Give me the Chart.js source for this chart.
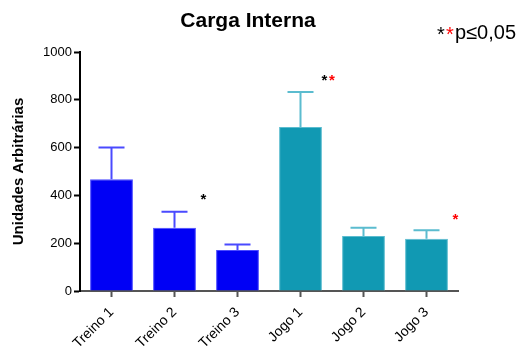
<!DOCTYPE html>
<html>
<head>
<meta charset="utf-8">
<script src="https://cdn.jsdelivr.net/npm/chart.js@4.4.0/dist/chart.umd.min.js"></script>
<style>
  body { margin: 0; background: #fff; }
  #wrap { width: 518px; height: 347px; position: relative; }
</style>
</head>
<body>
<div id="wrap"><canvas id="cargaChart"></canvas></div>
<script>
const categories = ['Treino 1', 'Treino 2', 'Treino 3', 'Jogo 1', 'Jogo 2', 'Jogo 3'];
const means = [468, 265, 172, 686, 230, 219];
const sdUpper = [132, 67, 23, 147, 35, 35];
const yTicks = [0, 200, 400, 600, 800, 1000];

const barColors = ['#0000f5', '#0000f5', '#0000f5', '#1199b3', '#1199b3', '#1199b3'];
const edgeColors = ['#4a4aff', '#4a4aff', '#4a4aff', '#5bbccf', '#5bbccf', '#5bbccf'];

// error bars (upper only) + significance marks
const extrasPlugin = {
    id: 'extras',
    afterDatasetsDraw(chart) {
        const ctx = chart.ctx;
        const x = chart.scales.x, y = chart.scales.y;
        ctx.save();
        means.forEach(function (m, i) {
            const px = x.getPixelForValue(i);
            const y0 = y.getPixelForValue(m);
            const y1 = y.getPixelForValue(m + sdUpper[i]);
            ctx.strokeStyle = edgeColors[i];
            ctx.lineWidth = 2;
            ctx.beginPath();
            ctx.moveTo(px, y0);
            ctx.lineTo(px, y1);
            ctx.moveTo(px - 13, y1);
            ctx.lineTo(px + 13, y1);
            ctx.stroke();
        });

        ctx.font = 'bold 15px "Liberation Sans", Arial, sans-serif';
        ctx.textAlign = 'center';
        ctx.textBaseline = 'middle';
        // Treino 2
        ctx.fillStyle = '#000';
        ctx.fillText('*', x.getPixelForValue(1.46), y.getPixelForValue(395) + 3);
        // Jogo 1
        ctx.fillText('*', x.getPixelForValue(3.38), y.getPixelForValue(890) + 3);
        ctx.fillStyle = '#ff0000';
        ctx.fillText('*', x.getPixelForValue(3.5), y.getPixelForValue(890) + 3);
        // Jogo 3
        ctx.fillText('*', x.getPixelForValue(5.46), y.getPixelForValue(310) + 3);

        // title
        ctx.fillStyle = '#000';
        ctx.font = 'bold 21px "Liberation Sans", Arial, sans-serif';
        ctx.fillText('Carga Interna', 248, 21);

        // legend note
        ctx.textAlign = 'left';
        ctx.font = '20px "Liberation Sans", Arial, sans-serif';
        ctx.fillText('*', 437, 35);
        ctx.fillStyle = '#ff0000';
        ctx.fillText('*', 446, 35);
        ctx.fillStyle = '#000';
        ctx.fillText('p≤0,05', 455, 33);
        ctx.restore();
    }
};

document.addEventListener('DOMContentLoaded', function () {
    new Chart(document.getElementById('cargaChart'), {
        type: 'bar',
        data: {
            labels: categories,
            datasets: [{
                data: means,
                backgroundColor: barColors,
                borderColor: edgeColors,
                borderWidth: 1,
                categoryPercentage: 1,
                barPercentage: 0.68,
            }]
        },
        options: {
            responsive: true,
            maintainAspectRatio: false,
            animation: false,
            layout: { padding: { top: 52, right: 60, left: 0, bottom: 0 } },
            plugins: {
                legend: { display: false },
                tooltip: { enabled: false }
            },
            scales: {
                x: {
                    offset: true,
                    grid: {
                        offset: false,
                        drawOnChartArea: false,
                        color: '#555',
                        tickLength: 6,
                        tickWidth: 2
                    },
                    border: { color: '#555', width: 2 },
                    ticks: {
                        color: '#000',
                        font: { family: '"Liberation Sans", Arial, sans-serif', size: 14 },
                        minRotation: 45,
                        maxRotation: 45,
                        padding: 7
                    },
                    afterFit(scale) { scale.height = 56; }
                },
                y: {
                    min: 0,
                    max: 1000,
                    afterBuildTicks(scale) {
                        scale.ticks = yTicks.map(function (v) { return { value: v }; });
                    },
                    grid: {
                        drawOnChartArea: false,
                        color: '#000',
                        tickLength: 6,
                        tickWidth: 2
                    },
                    border: { color: '#000', width: 2 },
                    ticks: {
                        color: '#000',
                        font: { family: '"Liberation Sans", Arial, sans-serif', size: 13 },
                        padding: 2,
                        callback: function (v) { return String(v); }
                    },
                    title: {
                        display: true,
                        text: 'Unidades Arbitrárias',
                        color: '#000',
                        font: { family: '"Liberation Sans", Arial, sans-serif', size: 15, weight: 'bold' },
                        padding: { top: 10, bottom: 8 }
                    },
                    afterFit(scale) { scale.width = 80; }
                }
            }
        },
        plugins: [extrasPlugin]
    });
});
</script>
</body>
</html>
